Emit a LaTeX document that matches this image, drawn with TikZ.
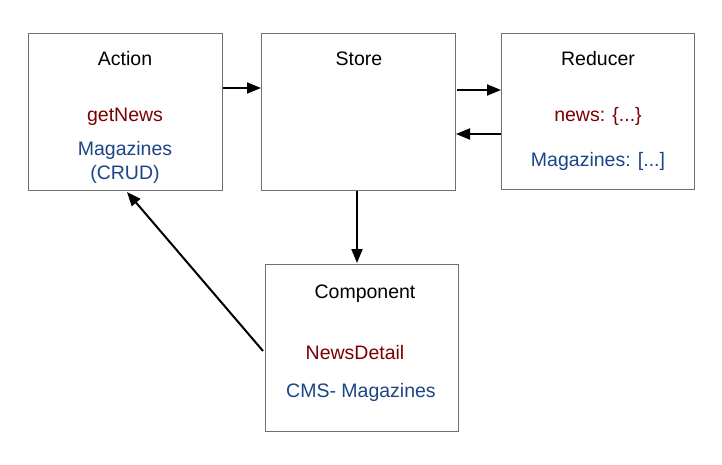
\documentclass[tikz,border=0pt]{standalone}
\usepackage{fontspec}
\setmainfont{Liberation Sans}
\usetikzlibrary{arrows.meta}
\definecolor{dred}{HTML}{7A0000}
\definecolor{dblue}{HTML}{1C4587}
\definecolor{boxgray}{HTML}{707070}
\begin{document}
\begin{tikzpicture}[x=1pt,y=-1pt,
  box/.style={draw=boxgray,line width=1pt,fill=white},
  txt/.style={font=\fontsize{19.5}{22}\selectfont,inner sep=0pt,anchor=base},
  conn/.style={line width=2pt,-{Triangle[length=14pt,width=11pt]}}]
\useasboundingbox (0,0) rectangle (722,465);
\node[box,minimum width=194pt,minimum height=157pt,anchor=north west] (action) at (28,33) {};
\node[box,minimum width=194pt,minimum height=157pt,anchor=north west] (store) at (261,33) {};
\node[box,minimum width=193pt,minimum height=156pt,anchor=north west] (reducer) at (501,33) {};
\node[box,minimum width=193pt,minimum height=167pt,anchor=north west] (comp) at (265,264) {};
% texts
\node[txt] (t1) at (125,66) {Action};
\node[txt,text=dred] (t2) at (125,122) {getNews};
\node[txt,text=dblue] (t3) at (125,156) {Magazines};
\node[txt,text=dblue] (t4) at (125,179) {(CRUD)};
\node[txt] (t5) at (359,66) {Store};
\node[txt] (t6) at (598,66) {Reducer};
\node[txt,text=dred] (t7) at (598,122) {news: \{...\}};
\node[txt,text=dblue] (t8) at (598,167) {Magazines: [...]};
\node[txt] (t9) at (365,298) {Component};
\node[txt,text=dred] (t10) at (355,359) {NewsDetail};
\node[txt,text=dblue] (t11) at (361,397) {CMS- Magazines};
% connectors
\coordinate (a1) at (action.east |- 0,88);
\coordinate (s1) at (store.west |- 0,88);
\draw[conn] (a1) -- (s1);
\coordinate (s2) at (457,90);
\coordinate (r2) at (reducer.west |- 0,90);
\draw[conn] (s2) -- (r2);
\coordinate (r3) at (reducer.west |- 0,134);
\coordinate (s3) at (456,134);
\draw[conn] (r3) -- (s3);
\coordinate (s4) at (357,191);
\coordinate (c4) at (357,263);
\draw[conn] (s4) -- (c4);
\coordinate (c5) at (263,351);
\coordinate (a5) at (127,192);
\draw[conn] (c5) -- (a5);
\end{tikzpicture}
\end{document}
